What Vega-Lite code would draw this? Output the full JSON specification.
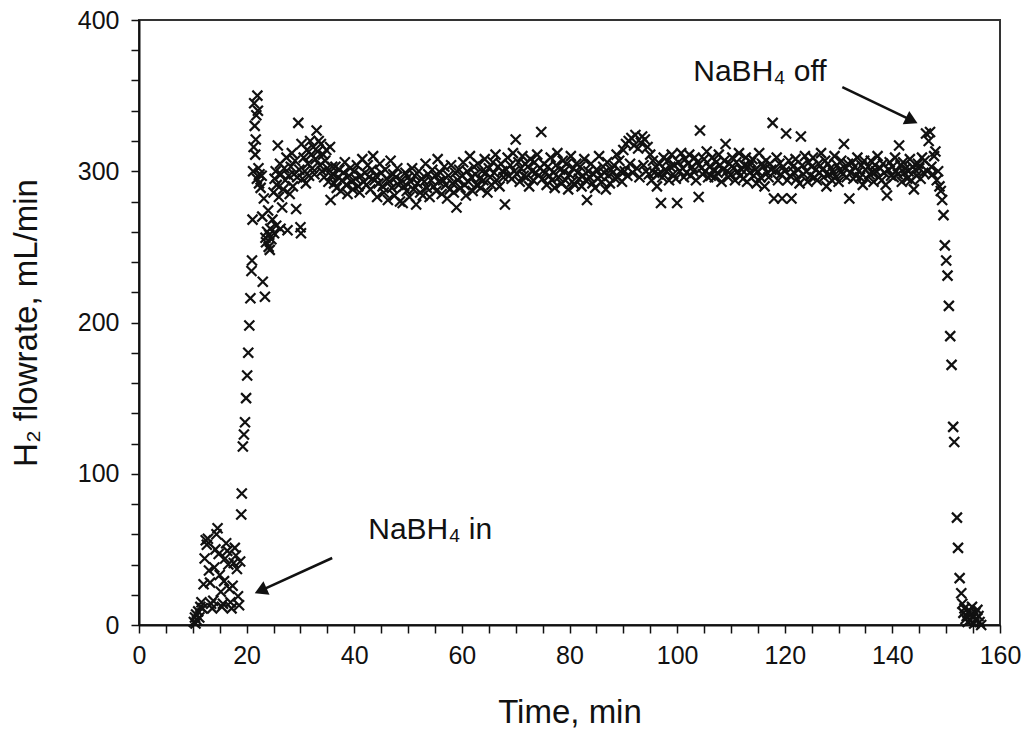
{
"$schema": "https://vega.github.io/schema/vega-lite/v6.json",
"width": 861, "height": 605,
"autosize": {"type": "none"},
"padding": {"left": 139, "top": 20, "right": 25, "bottom": 108},
"background": "white",
"config": {"view": {"stroke": "#333", "strokeWidth": 2}, "font": "Liberation Sans"},
"encoding": {
 "x": {"field": "t", "type": "quantitative", "scale": {"domain": [0, 160], "nice": false, "zero": false},
  "axis": {"title": "Time, min", "values": [0,5,10,15,20,25,30,35,40,45,50,55,60,65,70,75,80,85,90,95,100,105,110,115,120,125,130,135,140,145,150,155,160],
   "labelExpr": "datum.value % 20 === 0 ? datum.label : ''", "grid": false, "tickSize": 8, "tickWidth": 1.5, "tickColor": "#111",
   "domainColor": "#111", "domainWidth": 2, "labelFontSize": 25, "labelColor": "#111", "labelPadding": 10, "labelFont": "Liberation Sans",
   "titleFontSize": 33, "titleFontWeight": "normal", "titleColor": "#111", "titlePadding": 28, "titleFont": "Liberation Sans",
   "labelOverlap": false, "labelFlush": false}},
 "y": {"field": "q", "type": "quantitative", "scale": {"domain": [0, 400], "nice": false},
  "axis": {"title": "H₂ flowrate, mL/min", "values": [0,20,40,60,80,100,120,140,160,180,200,220,240,260,280,300,320,340,360,380,400],
   "labelExpr": "datum.value % 100 === 0 ? datum.label : ''", "grid": false, "tickSize": 8, "tickWidth": 1.5, "tickColor": "#111",
   "domainColor": "#111", "domainWidth": 2, "labelFontSize": 25, "labelColor": "#111", "labelPadding": 12, "labelFont": "Liberation Sans",
   "titleFontSize": 33, "titleFontWeight": "normal", "titleColor": "#111", "titlePadding": 34, "titleFont": "Liberation Sans",
   "labelOverlap": false, "labelFlush": false}}
},
"layer": [
{"data": {"values": [
{"t":10.2,"q":2},{"t":10.4,"q":5},{"t":10.5,"q":1},{"t":10.6,"q":7},{"t":10.8,"q":3},{"t":11,"q":9},{"t":11.2,"q":5},{"t":11.4,"q":12},{"t":11.6,"q":15},{"t":11.8,"q":11},
{"t":12,"q":27},{"t":12.2,"q":44},{"t":12.4,"q":56},{"t":12.6,"q":53},{"t":12.8,"q":57},{"t":13,"q":36},{"t":13.2,"q":28},{"t":13.4,"q":14},{"t":13.6,"q":11},{"t":13.8,"q":16},
{"t":14,"q":38},{"t":14.2,"q":50},{"t":14.4,"q":60},{"t":14.6,"q":64},{"t":14.8,"q":47},{"t":15,"q":33},{"t":15.2,"q":22},{"t":15.4,"q":12},{"t":15.6,"q":14},{"t":15.8,"q":29},
{"t":16,"q":44},{"t":16.2,"q":54},{"t":16.4,"q":49},{"t":16.6,"q":40},{"t":16.8,"q":24},{"t":17,"q":15},{"t":17.2,"q":11},{"t":17.4,"q":26},{"t":17.6,"q":41},{"t":17.8,"q":51},
{"t":18,"q":46},{"t":18.2,"q":37},{"t":18.4,"q":19},{"t":18.6,"q":13},{"t":18.8,"q":42},{"t":19,"q":73},{"t":19.1,"q":87},{"t":19.3,"q":118},{"t":19.5,"q":126},{"t":19.7,"q":134},
{"t":19.9,"q":150},{"t":20.1,"q":165},{"t":20.3,"q":180},{"t":20.5,"q":198},{"t":20.7,"q":216},{"t":20.9,"q":234},{"t":21,"q":241},{"t":21.1,"q":268},{"t":21.2,"q":300},{"t":21.3,"q":316},
{"t":21.4,"q":345},{"t":21.5,"q":330},{"t":21.6,"q":311},{"t":21.7,"q":321},{"t":21.8,"q":337},{"t":21.9,"q":295},{"t":22,"q":350},{"t":22.1,"q":340},{"t":22.2,"q":302},{"t":22.3,"q":292},
{"t":22.4,"q":298},{"t":22.6,"q":289},{"t":22.8,"q":297},{"t":22.9,"q":270},{"t":23,"q":227},{"t":23.2,"q":282},{"t":23.4,"q":217},{"t":23.5,"q":256},{"t":23.6,"q":253},{"t":23.8,"q":260},
{"t":24,"q":274},{"t":24.1,"q":250},{"t":24.2,"q":258},{"t":24.3,"q":248},{"t":24.4,"q":262},{"t":24.6,"q":255},{"t":24.8,"q":268},{"t":25,"q":286},{"t":25.1,"q":259},{"t":25.2,"q":295},
{"t":25.4,"q":300},{"t":25.5,"q":264},{"t":25.6,"q":291},{"t":25.8,"q":317},{"t":26,"q":283},{"t":26.2,"q":305},{"t":26.3,"q":262},{"t":26.4,"q":298},{"t":26.6,"q":276},{"t":26.8,"q":288},
{"t":27,"q":302},{"t":27.2,"q":294},{"t":27.4,"q":309},{"t":27.6,"q":261},{"t":27.8,"q":297},{"t":28,"q":285},{"t":28.2,"q":303},{"t":28.4,"q":312},{"t":28.6,"q":290},{"t":28.8,"q":298},
{"t":29,"q":307},{"t":29.2,"q":275},{"t":29.4,"q":296},{"t":29.6,"q":332},{"t":29.8,"q":301},{"t":30,"q":263},{"t":30.1,"q":259},{"t":30.2,"q":318},{"t":30.4,"q":295},{"t":30.6,"q":309},
{"t":30.8,"q":300},{"t":31,"q":292},{"t":31.2,"q":314},{"t":31.4,"q":305},{"t":31.6,"q":297},{"t":31.8,"q":320},{"t":32,"q":311},{"t":32.2,"q":302},{"t":32.4,"q":316},{"t":32.6,"q":298},
{"t":32.8,"q":308},{"t":33,"q":327},{"t":33.2,"q":313},{"t":33.4,"q":320},{"t":33.6,"q":304},{"t":33.8,"q":318},{"t":34,"q":300},{"t":34.2,"q":311},{"t":34.4,"q":296},{"t":34.6,"q":307},
{"t":34.8,"q":314},{"t":35,"q":302},{"t":35.2,"q":293},{"t":35.5,"q":316},{"t":35.6,"q":281},{"t":35.7,"q":297},{"t":35.9,"q":303},
{"t":36,"q":298},{"t":36.25,"q":292},{"t":36.5,"q":303},{"t":36.75,"q":289},
{"t":37,"q":296},{"t":37.25,"q":301},{"t":37.5,"q":287},{"t":37.75,"q":294},
{"t":38,"q":299},{"t":38.25,"q":306},{"t":38.5,"q":291},{"t":38.75,"q":285},
{"t":39,"q":297},{"t":39.25,"q":302},{"t":39.5,"q":293},{"t":39.75,"q":288},
{"t":40,"q":300},{"t":40.25,"q":295},{"t":40.5,"q":304},{"t":40.75,"q":290},
{"t":41,"q":286},{"t":41.25,"q":297},{"t":41.5,"q":308},{"t":41.75,"q":293},
{"t":42,"q":299},{"t":42.25,"q":291},{"t":42.5,"q":304},{"t":42.75,"q":296},
{"t":43,"q":288},{"t":43.25,"q":301},{"t":43.5,"q":310},{"t":43.75,"q":294},
{"t":44,"q":297},{"t":44.25,"q":283},{"t":44.5,"q":292},{"t":44.75,"q":305},
{"t":45,"q":299},{"t":45.25,"q":290},{"t":45.5,"q":286},{"t":45.75,"q":301},
{"t":46,"q":295},{"t":46.25,"q":281},{"t":46.5,"q":293},{"t":46.75,"q":307},
{"t":47,"q":289},{"t":47.25,"q":298},{"t":47.5,"q":284},{"t":47.75,"q":296},
{"t":48,"q":302},{"t":48.25,"q":291},{"t":48.5,"q":280},{"t":48.75,"q":294},
{"t":49,"q":279},{"t":49.25,"q":290},{"t":49.5,"q":299},{"t":49.75,"q":287},
{"t":50,"q":296},{"t":50.25,"q":283},{"t":50.5,"q":293},{"t":50.75,"q":302},
{"t":51,"q":288},{"t":51.25,"q":297},{"t":51.5,"q":278},{"t":51.75,"q":292},
{"t":52,"q":300},{"t":52.25,"q":286},{"t":52.5,"q":295},{"t":52.75,"q":284},
{"t":53,"q":293},{"t":53.25,"q":305},{"t":53.5,"q":289},{"t":53.75,"q":298},
{"t":54,"q":283},{"t":54.25,"q":294},{"t":54.5,"q":301},{"t":54.75,"q":290},
{"t":55,"q":297},{"t":55.25,"q":287},{"t":55.5,"q":308},{"t":55.75,"q":293},
{"t":56,"q":299},{"t":56.25,"q":285},{"t":56.5,"q":294},{"t":56.75,"q":303},
{"t":57,"q":291},{"t":57.25,"q":282},{"t":57.5,"q":297},{"t":57.75,"q":288},
{"t":58,"q":304},{"t":58.25,"q":292},{"t":58.5,"q":286},{"t":58.75,"q":299},
{"t":59,"q":276},{"t":59.25,"q":294},{"t":59.5,"q":301},{"t":59.75,"q":289},
{"t":60,"q":297},{"t":60.25,"q":306},{"t":60.5,"q":291},{"t":60.75,"q":284},
{"t":61,"q":300},{"t":61.25,"q":293},{"t":61.5,"q":310},{"t":61.75,"q":296},
{"t":62,"q":287},{"t":62.25,"q":303},{"t":62.5,"q":298},{"t":62.75,"q":291},
{"t":63,"q":305},{"t":63.25,"q":295},{"t":63.5,"q":289},{"t":63.75,"q":300},
{"t":64,"q":294},{"t":64.25,"q":308},{"t":64.5,"q":299},{"t":64.75,"q":286},
{"t":65,"q":302},{"t":65.25,"q":296},{"t":65.5,"q":291},{"t":65.75,"q":306},
{"t":66,"q":299},{"t":66.25,"q":311},{"t":66.5,"q":294},{"t":66.75,"q":303},
{"t":67,"q":290},{"t":67.25,"q":305},{"t":67.5,"q":300},{"t":67.75,"q":296},
{"t":68,"q":278},{"t":68.25,"q":301},{"t":68.5,"q":309},{"t":68.75,"q":297},
{"t":69,"q":304},{"t":69.25,"q":295},{"t":69.5,"q":312},{"t":69.75,"q":300},
{"t":70,"q":321},{"t":70.25,"q":298},{"t":70.5,"q":306},{"t":70.75,"q":293},
{"t":71,"q":302},{"t":71.25,"q":310},{"t":71.5,"q":297},{"t":71.75,"q":305},
{"t":72,"q":296},{"t":72.25,"q":303},{"t":72.5,"q":290},{"t":72.75,"q":308},
{"t":73,"q":300},{"t":73.25,"q":294},{"t":73.5,"q":306},{"t":73.75,"q":299},
{"t":74,"q":311},{"t":74.25,"q":297},{"t":74.5,"q":302},{"t":74.75,"q":326},
{"t":75,"q":295},{"t":75.25,"q":305},{"t":75.5,"q":299},{"t":75.75,"q":291},
{"t":76,"q":303},{"t":76.25,"q":297},{"t":76.5,"q":309},{"t":76.75,"q":294},
{"t":77,"q":299},{"t":77.25,"q":289},{"t":77.5,"q":304},{"t":77.75,"q":312},
{"t":78,"q":296},{"t":78.25,"q":301},{"t":78.5,"q":292},{"t":78.75,"q":307},
{"t":79,"q":300},{"t":79.25,"q":294},{"t":79.5,"q":305},{"t":79.75,"q":288},
{"t":80,"q":298},{"t":80.25,"q":310},{"t":80.5,"q":293},{"t":80.75,"q":302},
{"t":81,"q":291},{"t":81.25,"q":305},{"t":81.5,"q":299},{"t":81.75,"q":295},
{"t":82,"q":303},{"t":82.25,"q":290},{"t":82.5,"q":297},{"t":82.75,"q":308},
{"t":83,"q":294},{"t":83.25,"q":281},{"t":83.5,"q":300},{"t":83.75,"q":296},
{"t":84,"q":305},{"t":84.25,"q":292},{"t":84.5,"q":298},{"t":84.75,"q":289},
{"t":85,"q":301},{"t":85.25,"q":295},{"t":85.5,"q":310},{"t":85.75,"q":297},
{"t":86,"q":293},{"t":86.25,"q":303},{"t":86.5,"q":299},{"t":86.75,"q":288},
{"t":87,"q":306},{"t":87.25,"q":297},{"t":87.5,"q":292},{"t":87.75,"q":301},
{"t":88,"q":299},{"t":88.25,"q":304},{"t":88.5,"q":295},{"t":88.75,"q":311},
{"t":89,"q":296},{"t":89.25,"q":307},{"t":89.5,"q":300},{"t":89.75,"q":293},
{"t":90,"q":314},{"t":90.25,"q":300},{"t":90.5,"q":318},{"t":90.75,"q":297},
{"t":91,"q":320},{"t":91.25,"q":305},{"t":91.5,"q":322},{"t":91.75,"q":299},
{"t":92,"q":317},{"t":92.25,"q":324},{"t":92.5,"q":302},{"t":92.75,"q":315},
{"t":93,"q":296},{"t":93.25,"q":319},{"t":93.5,"q":323},{"t":93.75,"q":304},
{"t":94,"q":321},{"t":94.25,"q":300},{"t":94.5,"q":316},{"t":94.75,"q":298},
{"t":95,"q":311},{"t":95.25,"q":294},{"t":95.5,"q":307},{"t":95.75,"q":299},
{"t":96,"q":303},{"t":96.25,"q":290},{"t":96.5,"q":298},{"t":96.75,"q":305},
{"t":97,"q":279},{"t":97.25,"q":296},{"t":97.5,"q":309},{"t":97.75,"q":301},
{"t":98,"q":300},{"t":98.25,"q":307},{"t":98.5,"q":294},{"t":98.75,"q":303},
{"t":99,"q":311},{"t":99.25,"q":298},{"t":99.5,"q":304},{"t":99.75,"q":295},
{"t":100,"q":279},{"t":100.25,"q":306},{"t":100.5,"q":300},{"t":100.75,"q":312},
{"t":101,"q":302},{"t":101.25,"q":296},{"t":101.5,"q":308},{"t":101.75,"q":299},
{"t":102,"q":305},{"t":102.25,"q":311},{"t":102.5,"q":297},{"t":102.75,"q":303},
{"t":103,"q":300},{"t":103.25,"q":309},{"t":103.5,"q":294},{"t":103.75,"q":306},
{"t":104,"q":283},{"t":104.25,"q":327},{"t":104.5,"q":302},{"t":104.75,"q":298},
{"t":105,"q":308},{"t":105.25,"q":300},{"t":105.5,"q":313},{"t":105.75,"q":296},
{"t":106,"q":303},{"t":106.25,"q":297},{"t":106.5,"q":309},{"t":106.75,"q":301},
{"t":107,"q":296},{"t":107.25,"q":306},{"t":107.5,"q":299},{"t":107.75,"q":311},
{"t":108,"q":304},{"t":108.25,"q":293},{"t":108.5,"q":301},{"t":108.75,"q":307},
{"t":109,"q":318},{"t":109.25,"q":300},{"t":109.5,"q":296},{"t":109.75,"q":305},
{"t":110,"q":298},{"t":110.25,"q":309},{"t":110.5,"q":302},{"t":110.75,"q":294},
{"t":111,"q":306},{"t":111.25,"q":300},{"t":111.5,"q":312},{"t":111.75,"q":297},
{"t":112,"q":301},{"t":112.25,"q":295},{"t":112.5,"q":304},{"t":112.75,"q":309},
{"t":113,"q":293},{"t":113.25,"q":303},{"t":113.5,"q":299},{"t":113.75,"q":306},
{"t":114,"q":308},{"t":114.25,"q":297},{"t":114.5,"q":301},{"t":114.75,"q":292},
{"t":115,"q":300},{"t":115.25,"q":312},{"t":115.5,"q":296},{"t":115.75,"q":305},
{"t":116,"q":303},{"t":116.25,"q":290},{"t":116.5,"q":307},{"t":116.75,"q":299},
{"t":117,"q":296},{"t":117.25,"q":305},{"t":117.75,"q":332},{"t":117.5,"q":301},
{"t":118,"q":282},{"t":118.25,"q":300},{"t":118.5,"q":309},{"t":118.75,"q":294},
{"t":119,"q":305},{"t":119.25,"q":298},{"t":119.5,"q":282},{"t":119.75,"q":303},
{"t":120,"q":300},{"t":120.25,"q":325},{"t":120.5,"q":294},{"t":120.75,"q":307},
{"t":121,"q":297},{"t":121.25,"q":282},{"t":121.5,"q":303},{"t":121.75,"q":299},
{"t":122,"q":308},{"t":122.25,"q":295},{"t":122.5,"q":301},{"t":122.75,"q":292},
{"t":123,"q":323},{"t":123.25,"q":304},{"t":123.5,"q":298},{"t":123.75,"q":310},
{"t":124,"q":300},{"t":124.25,"q":293},{"t":124.5,"q":306},{"t":124.75,"q":297},
{"t":125,"q":303},{"t":125.25,"q":309},{"t":125.5,"q":296},{"t":125.75,"q":301},
{"t":126,"q":294},{"t":126.25,"q":305},{"t":126.5,"q":299},{"t":126.75,"q":312},
{"t":127,"q":301},{"t":127.25,"q":296},{"t":127.5,"q":307},{"t":127.75,"q":290},
{"t":128,"q":305},{"t":128.25,"q":298},{"t":128.5,"q":302},{"t":128.75,"q":294},
{"t":129,"q":299},{"t":129.25,"q":310},{"t":129.5,"q":296},{"t":129.75,"q":304},
{"t":130,"q":293},{"t":130.25,"q":301},{"t":130.5,"q":307},{"t":130.75,"q":298},
{"t":131,"q":318},{"t":131.25,"q":302},{"t":131.5,"q":296},{"t":131.75,"q":305},
{"t":132,"q":282},{"t":132.25,"q":299},{"t":132.5,"q":306},{"t":132.75,"q":295},
{"t":133,"q":303},{"t":133.25,"q":297},{"t":133.5,"q":309},{"t":133.75,"q":300},
{"t":134,"q":296},{"t":134.25,"q":304},{"t":134.5,"q":291},{"t":134.75,"q":307},
{"t":135,"q":301},{"t":135.25,"q":295},{"t":135.5,"q":303},{"t":135.75,"q":298},
{"t":136,"q":307},{"t":136.25,"q":299},{"t":136.5,"q":293},{"t":136.75,"q":304},
{"t":137,"q":300},{"t":137.25,"q":310},{"t":137.5,"q":296},{"t":137.75,"q":302},
{"t":138,"q":294},{"t":138.25,"q":305},{"t":138.5,"q":299},{"t":138.75,"q":291},
{"t":139,"q":284},{"t":139.25,"q":301},{"t":139.5,"q":306},{"t":139.75,"q":297},
{"t":140,"q":303},{"t":140.25,"q":296},{"t":140.5,"q":309},{"t":140.75,"q":300},
{"t":141,"q":298},{"t":141.25,"q":317},{"t":141.5,"q":304},{"t":141.75,"q":293},
{"t":142,"q":306},{"t":142.25,"q":299},{"t":142.5,"q":302},{"t":142.75,"q":295},
{"t":143,"q":300},{"t":143.25,"q":308},{"t":143.5,"q":294},{"t":143.75,"q":303},
{"t":144,"q":288},{"t":144.25,"q":301},{"t":144.5,"q":297},{"t":144.75,"q":305},
{"t":145,"q":302},{"t":145.25,"q":295},{"t":145.5,"q":309},{"t":145.75,"q":299},
{"t":146,"q":307},{"t":146.25,"q":325},{"t":146.5,"q":300},{"t":146.75,"q":320},
{"t":147,"q":326},{"t":147.25,"q":303},{"t":147.5,"q":298},{"t":147.75,"q":310},
{"t":148,"q":313},{"t":148.25,"q":294},{"t":148.5,"q":300},{"t":148.75,"q":290},
{"t":149,"q":287},{"t":149.25,"q":281},{"t":149.5,"q":271},{"t":149.75,"q":251},{"t":150,"q":241},{"t":150.25,"q":231},{"t":150.5,"q":211},{"t":150.75,"q":191},
{"t":151,"q":172},{"t":151.3,"q":131},{"t":151.5,"q":121},{"t":152,"q":71},{"t":152.2,"q":51},{"t":152.5,"q":31},{"t":152.8,"q":21},{"t":153,"q":14},
{"t":153.2,"q":8},{"t":153.4,"q":11},{"t":153.6,"q":4},{"t":153.8,"q":6},{"t":154,"q":2},{"t":154.2,"q":9},{"t":154.4,"q":3},{"t":154.6,"q":7},
{"t":154.8,"q":12},{"t":155,"q":5},{"t":155.2,"q":1},{"t":155.4,"q":8},{"t":155.6,"q":4},{"t":155.8,"q":10},{"t":156,"q":6},{"t":156.2,"q":2},{"t":156.5,"q":0}
]},
 "mark": {"type": "point", "shape": "M-1,-1L1,1M1,-1L-1,1", "filled": false, "stroke": "#111", "strokeWidth": 2.2, "size": 100, "opacity": 1}},
{"data": {"values": [{"t": 35.9, "q": 44.3, "t2": 22.6, "q2": 22.8}, {"t": 130.7, "q": 355.7, "t2": 143.6, "q2": 333.6}]},
 "mark": {"type": "rule", "stroke": "#111", "strokeWidth": 2.5},
 "encoding": {"x2": {"field": "t2"}, "y2": {"field": "q2"}}},
{"data": {"values": [{"t": 22.6, "q": 22.8, "a": 246}, {"t": 143.6, "q": 333.6, "a": 116}]},
 "mark": {"type": "point", "shape": "triangle-up", "filled": true, "fill": "#111", "strokeWidth": 0, "size": 220, "opacity": 1},
 "encoding": {"angle": {"field": "a", "type": "quantitative", "scale": null}}},
{"data": {"values": [{"t": 42.6, "q": 62.8, "label": "NaBH₄ in"}, {"t": 103, "q": 365.6, "label": "NaBH₄ off"}]},
 "mark": {"type": "text", "align": "left", "baseline": "middle", "fontSize": 30, "font": "Liberation Sans", "color": "#111"},
 "encoding": {"text": {"field": "label"}}}
]
}
